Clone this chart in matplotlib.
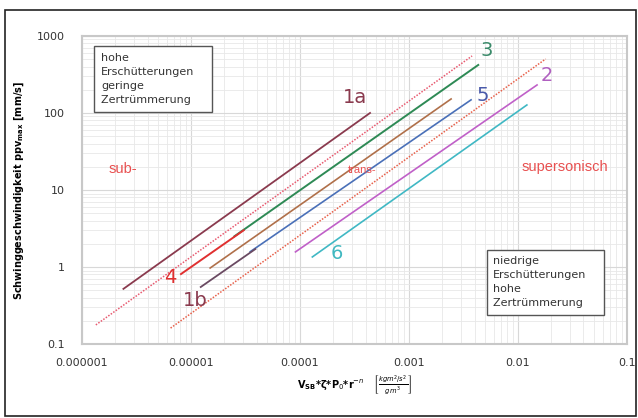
import matplotlib
matplotlib.use("Agg")
import matplotlib.pyplot as plt
from matplotlib.patches import Rectangle

# lines: (x start, x end), (y start, y end)
x_1a = [2.4e-6, 4.4e-4]
y_1a = [0.52, 100]
x_1b = [1.23e-5, 3.9e-5]
y_1b = [0.55, 1.71]
x_2 = [9.1e-5, 0.015]
y_2 = [1.57, 231]
x_3 = [2.5e-5, 4.33e-3]
y_3 = [2.5, 420]
x_4 = [8.1e-6, 3.05e-5]
y_4 = [0.81, 3.0]
x_5 = [3.5e-5, 3.72e-3]
y_5 = [1.58, 148]
x_6 = [1.3e-4, 0.0121]
y_6 = [1.35, 127]
x_brown = [1.5e-5, 2.44e-3]
y_brown = [0.97, 152]
x_dot_up = [1.34e-6, 3.8e-3]
y_dot_up = [0.177, 550]
x_dot_low = [6.5e-6, 0.018]
y_dot_low = [0.161, 503]

xticks = [0.000001, 0.00001, 0.0001, 0.001, 0.01, 0.1]
xticklabels = ["0.000001", "0.00001", "0.0001", "0.001", "0.01", "0.1"]
yticks = [0.1, 1, 10, 100, 1000]
yticklabels = ["0.1", "1", "10", "100", "1000"]

fig = plt.figure(figsize=(6.38, 4.18), dpi=100)
ax = fig.add_axes([0.1285, 0.177, 0.854, 0.737])
ax.set_xscale("log")
ax.set_yscale("log")
ax.set_xlim(1e-6, 0.1)
ax.set_ylim(0.1, 1000)

ax.grid(True, which="major", color="#d8d8d8", lw=0.8)
ax.grid(True, which="minor", color="#e8e8e8", lw=0.6)
for s in ax.spines.values():
    s.set_color("#c8c8c8")
    s.set_linewidth(1.5)

ax.plot(x_dot_up, y_dot_up, color="#e85a70", lw=1.1, ls=(0, (1, 1)))
ax.plot(x_dot_low, y_dot_low, color="#e8604a", lw=1.1, ls=(0, (1, 1)))
ax.plot(x_1a, y_1a, color="#8a3a4e", lw=1.3)
ax.plot(x_brown, y_brown, color="#b0704a", lw=1.2)
ax.plot(x_5, y_5, color="#4a70b8", lw=1.2)
ax.plot(x_1b, y_1b, color="#6a4a62", lw=1.3)
ax.plot(x_3, y_3, color="#2e8a55", lw=1.4)
ax.plot(x_4, y_4, color="#e03030", lw=1.4)
ax.plot(x_2, y_2, color="#c060c8", lw=1.2)
ax.plot(x_6, y_6, color="#40b8c4", lw=1.2)

ax.text(3.2e-4, 160, "1a", color="#8a3a4e", fontsize=14, ha="center", va="center")
ax.text(5.2e-3, 650, "3", color="#3a8a6a", fontsize=14, ha="center", va="center")
ax.text(4.8e-3, 170, "5", color="#4a5aaa", fontsize=14, ha="center", va="center")
ax.text(0.0185, 310, "2", color="#b060c0", fontsize=14, ha="center", va="center")
ax.text(2.16e-4, 1.5, "6", color="#40b8c0", fontsize=14, ha="center", va="center")
ax.text(6.5e-6, 0.74, "4", color="#e03030", fontsize=14, ha="center", va="center")
ax.text(1.1e-5, 0.37, "1b", color="#8a3a4e", fontsize=14, ha="center", va="center")

narrow = ["Liberation Sans", "DejaVu Sans"]
ax.text(2.37e-6, 19, "sub-", color="#e85050", fontsize=10.5, ha="center", va="center", family=narrow)
ax.text(3.7e-4, 18, "trans-", color="#e85050", fontsize=8, ha="center", va="center", family=narrow)
ax.text(0.027, 20, "supersonisch", color="#e85050", fontsize=10.5, ha="center", va="center", family=narrow)

box = dict(boxstyle="square,pad=0.6", fc="white", ec="#555555", lw=1)
ax.text(0.035, 0.945, "hohe\nErschütterungen\ngeringe\nZertrümmerung    ", transform=ax.transAxes,
        fontsize=8, va="top", ha="left", linespacing=1.5, bbox=box, color="#333333")
ax.text(0.755, 0.285, "niedrige\nErschütterungen\nhohe\nZertrümmerung    ", transform=ax.transAxes,
        fontsize=8, va="top", ha="left", linespacing=1.5, bbox=box, color="#333333")

ax.set_xticks(xticks)
ax.set_xticklabels(xticklabels)
ax.set_yticks(yticks)
ax.set_yticklabels(yticklabels)
ax.tick_params(which="both", length=0, labelsize=8, colors="#333333")
ax.tick_params(axis="x", pad=10)
ax.tick_params(axis="y", pad=12)

ax.set_ylabel(r"Schwinggeschwindigkeit ppv$_{\mathbf{max}}$ [mm/s]", fontsize=7, fontweight="bold", labelpad=8)
ax.set_xlabel(r"$\mathbf{V_{SB}}$*ζ*P$_0$*r$^{-n}$   $\left[\frac{kgm^2/s^2}{g\,m^3}\right]$",
              fontsize=7, fontweight="bold", labelpad=4)

fig.patches.append(Rectangle((5 / 638, 2 / 418), 631 / 638, 406 / 418, transform=fig.transFigure,
                             fill=False, ec="#222222", lw=1.2))

fig.savefig("out.png", dpi=100)
